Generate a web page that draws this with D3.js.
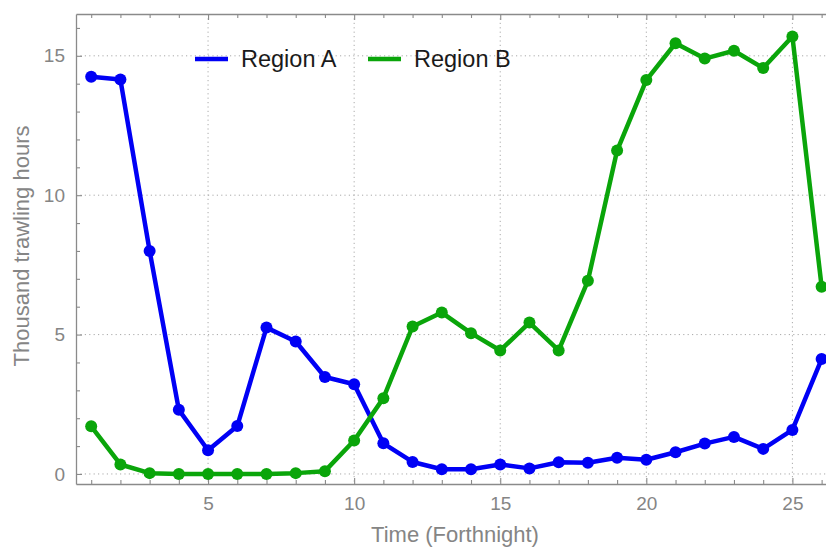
<!DOCTYPE html>
<html>
<head>
<meta charset="utf-8">
<script src="https://cdn.jsdelivr.net/npm/d3@7"></script>
<style>
  body { margin: 0; background: #fff; }
  svg { display: block; font-family: "Liberation Sans", Arial, sans-serif; }
</style>
</head>
<body>
<div id="chart"></div>
<script>
// forthnights 1..26
const periods = d3.range(1, 27);
const regionA = [14.25, 14.15, 8.0, 2.3, 0.85, 1.72, 5.25, 4.75, 3.48, 3.22, 1.1, 0.43, 0.17, 0.17, 0.34, 0.2, 0.42, 0.4, 0.58, 0.51, 0.78, 1.09, 1.33, 0.9, 1.58, 4.12];
const regionB = [1.71, 0.34, 0.03, 0.0, 0.0, 0.0, 0.0, 0.03, 0.1, 1.2, 2.72, 5.29, 5.79, 5.05, 4.43, 5.43, 4.43, 6.93, 11.6, 14.13, 15.45, 14.9, 15.18, 14.56, 15.69, 6.72];
const seriesNames = ["Region A", "Region B"];
const xTicks = [5, 10, 15, 20, 25];
const yTicks = [0, 5, 10, 15];

const W = 826, H = 548;
const margin = { top: 14, right: 0, bottom: 64, left: 76 };
const width = W - margin.left - margin.right;
const height = H - margin.top - margin.bottom;
const colors = ["#0000f5", "#0aa50a"];
const axisGray = "#8a8a8a";

const svg = d3.select("#chart").append("svg")
  .attr("width", W)
  .attr("height", H);

const g = svg.append("g")
  .attr("transform", `translate(${margin.left},${margin.top})`);

const x = d3.scaleLinear().domain([0.48, 26.15]).range([0, width]);
const y = d3.scaleLinear().domain([-0.36, 16.5]).range([height, 0]);

// dotted grid
g.append("g").selectAll("line.vg")
  .data(xTicks).enter().append("line")
  .attr("x1", d => x(d)).attr("x2", d => x(d))
  .attr("y1", 0).attr("y2", height)
  .attr("stroke", "#aaaaaa").attr("stroke-width", 1)
  .attr("stroke-dasharray", "1.2,3.2");

g.append("g").selectAll("line.hg")
  .data(yTicks).enter().append("line")
  .attr("x1", 0).attr("x2", width)
  .attr("y1", d => y(d)).attr("y2", d => y(d))
  .attr("stroke", "#aaaaaa").attr("stroke-width", 1)
  .attr("stroke-dasharray", "1.2,3.2");

// frame axes, ticks pointing inward
const minorX = d3.range(1, 27);
const minorY = d3.range(0, 17);

function styleAxis(sel) {
  sel.select(".domain").attr("stroke", axisGray).attr("stroke-width", 1.3);
  sel.selectAll(".tick line").attr("stroke", axisGray).attr("stroke-width", 1.1);
  sel.selectAll(".tick text")
    .attr("fill", "#858585")
    .style("font-size", "19px")
    .style("font-family", "Liberation Sans, Arial, sans-serif");
}

const bottomAxis = g.append("g")
  .attr("transform", `translate(0,${height})`)
  .call(d3.axisBottom(x).tickValues(minorX).tickSizeInner(-4).tickSizeOuter(0)
    .tickPadding(13)
    .tickFormat(d => xTicks.includes(d) ? d : ""));
styleAxis(bottomAxis);
bottomAxis.selectAll(".tick line").filter(d => xTicks.includes(d)).attr("y2", -6);

const topAxis = g.append("g")
  .call(d3.axisTop(x).tickValues(minorX).tickSizeInner(-4).tickSizeOuter(0).tickFormat(""));
styleAxis(topAxis);
topAxis.selectAll(".tick line").filter(d => xTicks.includes(d)).attr("y2", 6);

const leftAxis = g.append("g")
  .call(d3.axisLeft(y).tickValues(minorY).tickSizeInner(-4).tickSizeOuter(0)
    .tickPadding(11)
    .tickFormat(d => yTicks.includes(d) ? d : ""));
styleAxis(leftAxis);
leftAxis.selectAll(".tick line").filter(d => yTicks.includes(d)).attr("x2", 6);

// lines and points
const line = d3.line()
  .x((d, i) => x(periods[i]))
  .y(d => y(d));

[regionA, regionB].forEach((vals, k) => {
  g.append("path")
    .datum(vals)
    .attr("fill", "none")
    .attr("stroke", colors[k])
    .attr("stroke-width", 4.5)
    .attr("stroke-linejoin", "round")
    .attr("d", line);

  g.selectAll("circle.s" + k)
    .data(vals)
    .enter().append("circle")
    .attr("class", "s" + k)
    .attr("cx", (d, i) => x(periods[i]))
    .attr("cy", d => y(d))
    .attr("r", 6)
    .attr("fill", colors[k]);
});

// legend
const legend = svg.append("g").attr("transform", "translate(195,59)");
const legX = [0, 173];
seriesNames.forEach((name, k) => {
  legend.append("line")
    .attr("x1", legX[k]).attr("x2", legX[k] + 33)
    .attr("y1", 0).attr("y2", 0)
    .attr("stroke", colors[k]).attr("stroke-width", 4.5);
  legend.append("text")
    .attr("x", legX[k] + 46).attr("y", 8)
    .text(name)
    .style("font-size", "23.5px")
    .attr("fill", "#1a1a1a");
});

// axis titles
svg.append("text")
  .attr("x", 455).attr("y", 542)
  .attr("text-anchor", "middle")
  .text("Time (Forthnight)")
  .style("font-size", "22px")
  .attr("fill", "#858585");

svg.append("text")
  .attr("transform", "translate(29,246) rotate(-90)")
  .attr("text-anchor", "middle")
  .text("Thousand trawling hours")
  .style("font-size", "22px")
  .attr("fill", "#858585");
</script>
</body>
</html>
